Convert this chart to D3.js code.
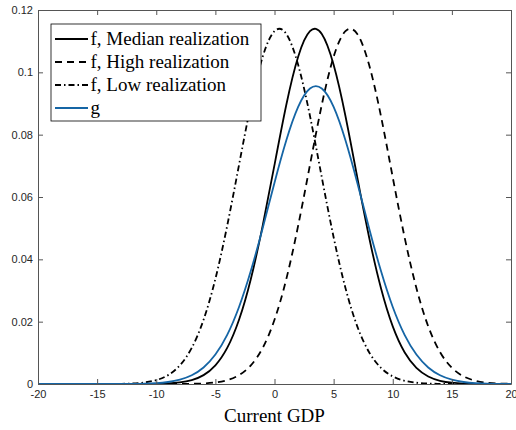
<!DOCTYPE html>
<meta charset="utf-8">
<script src="https://d3js.org/d3.v7.min.js"></script>
<style>
  body { margin: 0; background: #fff; }
  .tick text { font-family: "Liberation Sans", Arial, sans-serif; font-size: 11px; fill: #262626; }
  .axis path, .axis line { stroke: #555; stroke-width: 1; }
</style>
<body>
</body>
<script>
  // x grid (current GDP) and curve heights
  var gdp = [-20,-19,-18,-17,-16,-15,-14,-13,-12,-11,-10,-9,-8,-7,-6,-5,-4,-3,-2,-1,
             0,1,2,3,4,5,6,7,8,9,10,11,12,13,14,15,16,17,18,19,20];

  var fMedian = [0,0,0,0,0,0,0,0,0,0.00002,0.00006,0.00018,0.0005,0.00124,0.00284,0.00599,0.01157,0.0206,0.0337,0.0508,
                 0.0703,0.0896,0.1050,0.1132,0.1123,0.1024,0.0860,0.0663,0.0471,0.0308,0.0185,0.01021,0.00519,0.00243,0.00104,0.00041,0.00015,0.00005,0.00001,0,0];

  var fHigh = [0,0,0,0,0,0,0,0,0,0,0,0,0.00002,0.00006,0.00018,0.0005,0.00124,0.00284,0.00599,0.01157,
               0.0206,0.0337,0.0508,0.0703,0.0896,0.1050,0.1132,0.1123,0.1024,0.0860,0.0663,0.0471,0.0308,0.0185,0.01021,0.00519,0.00243,0.00104,0.00041,0.00015,0.00005];

  var fLow = [0,0,0,0,0,0,0.00002,0.00006,0.00018,0.0005,0.00124,0.00284,0.00599,0.01157,0.0206,0.0337,0.0508,0.0703,0.0896,0.1050,
              0.1132,0.1123,0.1024,0.0860,0.0663,0.0471,0.0308,0.0185,0.01021,0.00519,0.00243,0.00104,0.00041,0.00015,0.00005,0.00001,0,0,0,0,0];

  var g = [0,0,0,0,0,0,0,0.00002,0.00004,0.00011,0.00028,0.00064,0.00138,0.00279,0.0053,0.00944,0.01576,0.0247,0.0363,0.0500,
           0.0646,0.0782,0.0889,0.0948,0.0948,0.0889,0.0782,0.0646,0.0500,0.0363,0.0247,0.01576,0.00944,0.0053,0.00279,0.00138,0.00064,0.00028,0.00011,0.00004,0.00002];

  var xTicks = [-20,-15,-10,-5,0,5,10,15,20];
  var xTickLabels = ["-20","-15","-10","-5","0","5","10","15","20"];
  var yTicks = [0,0.02,0.04,0.06,0.08,0.1,0.12];
  var yTickLabels = ["0","0.02","0.04","0.06","0.08","0.1","0.12"];

  var seriesNames = ["f, Median realization","f, High realization","f, Low realization","g"];

  var series = [
    {name: seriesNames[0], values: fMedian, color: "#000", dash: null},
    {name: seriesNames[1], values: fHigh, color: "#000", dash: "7,5"},
    {name: seriesNames[2], values: fLow, color: "#000", dash: "6,3,1.5,3"},
    {name: seriesNames[3], values: g, color: "#1565a5", dash: null}
  ];

  var serif = "'Liberation Serif', 'Times New Roman', Times, 'DejaVu Serif', serif";

  var W = 516, H = 430;
  var margin = {top: 10, right: 5, bottom: 46, left: 38};
  var width = W - margin.left - margin.right,
      height = H - margin.top - margin.bottom;

  var svg = d3.select("body").append("svg")
      .attr("width", W)
      .attr("height", H)
    .append("g")
      .attr("transform", "translate(" + margin.left + "," + margin.top + ")");

  var xScale = d3.scaleLinear().domain([-20, 20]).range([0, width]);
  var yScale = d3.scaleLinear().domain([0, 0.12]).range([height, 0]);

  // curves
  var line = d3.line()
    .x(function(d, i) { return xScale(gdp[i]); })
    .y(function(d) { return yScale(d); })
    .curve(d3.curveNatural);

  svg.selectAll(".curve")
    .data(series)
    .enter().append("path")
    .attr("class", "curve")
    .attr("d", function(s) { return line(s.values); })
    .attr("fill", "none")
    .attr("stroke", function(s) { return s.color; })
    .attr("stroke-width", 1.8)
    .attr("stroke-dasharray", function(s) { return s.dash; });

  // axes, ticks inside on all four sides
  svg.append("g")
    .attr("class", "axis")
    .attr("transform", "translate(0," + height + ")")
    .call(d3.axisBottom(xScale).tickValues(xTicks)
      .tickFormat(function(d, i) { return xTickLabels[i]; })
      .tickSizeInner(-5).tickSizeOuter(0).tickPadding(6));

  svg.append("g")
    .attr("class", "axis")
    .call(d3.axisTop(xScale).tickValues(xTicks).tickFormat("")
      .tickSizeInner(-5).tickSizeOuter(0));

  svg.append("g")
    .attr("class", "axis")
    .call(d3.axisLeft(yScale).tickValues(yTicks)
      .tickFormat(function(d, i) { return yTickLabels[i]; })
      .tickSizeInner(-5).tickSizeOuter(0).tickPadding(5));

  svg.append("g")
    .attr("class", "axis")
    .attr("transform", "translate(" + width + ",0)")
    .call(d3.axisRight(yScale).tickValues(yTicks).tickFormat("")
      .tickSizeInner(-5).tickSizeOuter(0));

  svg.append("text")
    .attr("x", width / 2)
    .attr("y", height + 38)
    .attr("text-anchor", "middle")
    .attr("font-family", serif)
    .attr("font-size", "19px")
    .attr("fill", "#000")
    .text("Current GDP");

  // legend
  var legend = svg.append("g")
    .attr("transform", "translate(13,14)");

  legend.append("rect")
    .attr("width", 210)
    .attr("height", 97)
    .attr("fill", "#fff")
    .attr("stroke", "#000")
    .attr("stroke-width", 0.8);

  var rows = legend.selectAll(".row")
    .data(series)
    .enter().append("g")
    .attr("class", "row")
    .attr("transform", function(d, i) { return "translate(0," + (15 + i * 23) + ")"; });

  rows.append("line")
    .attr("x1", 4).attr("x2", 37)
    .attr("stroke", function(s) { return s.color; })
    .attr("stroke-width", 1.8)
    .attr("stroke-dasharray", function(s) { return s.dash; });

  rows.append("text")
    .attr("x", 39.5)
    .attr("y", 5.5)
    .attr("font-family", serif)
    .attr("font-size", "19px")
    .attr("fill", "#000")
    .text(function(s) { return s.name; });
</script>
